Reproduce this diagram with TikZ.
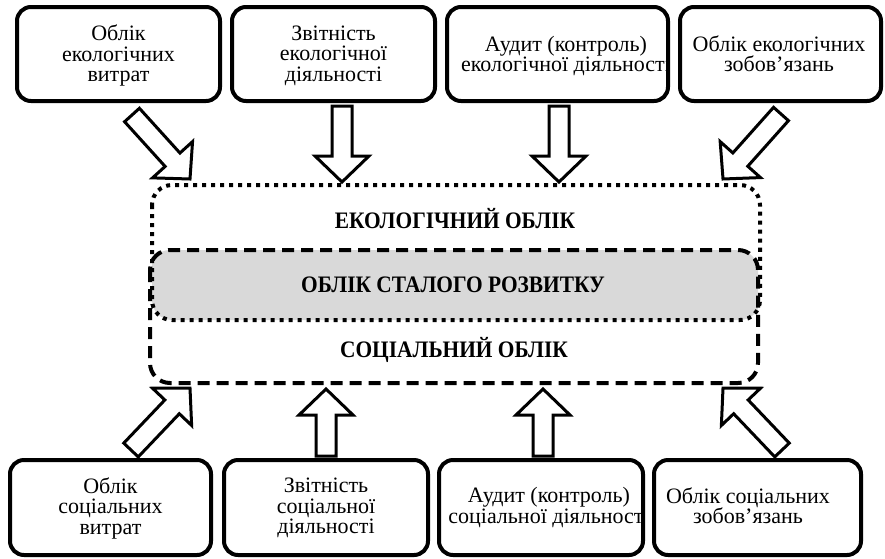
\documentclass[tikz,border=0pt]{standalone}
\usepackage{graphicx}
\usepackage{fontspec}
\setmainfont{Liberation Serif}
\usetikzlibrary{calc}
\definecolor{fillgray}{HTML}{D9D9D9}
\newcommand\tightlines{\lineskiplimit=-30pt\relax\lineskip=0pt\relax}
\newcommand\fatarrow[2]{%
  \path[fatarrow] let \p1=(#1), \p2=(#2),
    \n1={atan2(\y2-\y1,\x2-\x1)}, \n2={veclen(\x2-\x1,\y2-\y1)} in
    {[shift={(\p1)}, rotate=\n1]
      (0pt,-10pt) -- (\n2-26pt,-10pt) -- (\n2-26pt,-27pt) -- (\n2+0pt,0pt)
      -- (\n2-26pt,27pt) -- (\n2-26pt,10pt) -- (0pt,10pt) -- cycle};}
\newcommand\bigcaps[1]{\scalebox{0.95}[1.05]{#1}}
\begin{document}
\begin{tikzpicture}[x=1pt,y=-1pt,
  box/.style={draw, line width=4pt, rounded corners=14pt, fill=white, inner sep=0pt},
  boxtext/.style={align=center, inner sep=0pt,
    font=\fontsize{22}{20.5}\selectfont\tightlines},
  bigtext/.style={inner sep=0pt, anchor=base, font=\bfseries\fontsize{22.5}{24}\selectfont},
  ecoline/.style={line width=4pt, dash pattern=on 4pt off 5pt, rounded corners=20pt},
  socline/.style={line width=4pt, dash pattern=on 12pt off 7pt, rounded corners=20pt},
  fatarrow/.style={draw, line width=3pt, fill=white, line join=miter}
]
\useasboundingbox (0,0) rectangle (885,558);

% central area
\begin{scope}
  \clip[rounded corners=20pt] (152,185) rectangle (760,320);
  \fill[fillgray, rounded corners=20pt] (150,250) rectangle (758,383);
\end{scope}
\draw[ecoline] (152,185) rectangle (760,320);
\draw[socline] (150,250) rectangle (758,383);
\node[bigtext] (eco) at (455,228) {\bigcaps{ЕКОЛОГІЧНИЙ ОБЛІК}};
\node[bigtext] (sus) at (453,292) {\bigcaps{ОБЛІК СТАЛОГО РОЗВИТКУ}};
\node[bigtext] (soc) at (454,357.5) {\bigcaps{СОЦІАЛЬНИЙ ОБЛІК}};

% top boxes
\node[box, minimum width=203pt, minimum height=94pt] (tb1) at (118.5,54) {};
\node[box, minimum width=203pt, minimum height=94pt] (tb2) at (333.5,54) {};
\node[box, minimum width=221pt, minimum height=94pt] (tb3) at (557.5,54) {};
\node[box, minimum width=201pt, minimum height=94pt] (tb4) at (780.5,54) {};
\node[boxtext] (tb1t) at (118.5,55.5) {Облік\\екологічних\\витрат};
\node[boxtext] (tb2t) at (333.5,55.5) {Звітність\\екологічної\\діяльності};
\begin{scope}
  \clip ([xshift=2pt,yshift=2pt]tb3.south west) rectangle ([xshift=-2pt,yshift=-2pt]tb3.north east);
  \node[boxtext] (tb3t) at (566,56) {Аудит (контроль)\\екологічної діяльності};
\end{scope}
\node[boxtext] (tb4t) at (779,53.6) {Облік екологічних\\зобов’язань};

% bottom boxes
\node[box, minimum width=201pt, minimum height=95pt] (bb1) at (110.5,507.5) {};
\node[box, minimum width=204pt, minimum height=95pt] (bb2) at (326,507.5) {};
\node[box, minimum width=204pt, minimum height=95pt] (bb3) at (541,507.5) {};
\node[box, minimum width=207pt, minimum height=95pt] (bb4) at (757.5,507.5) {};
\node[boxtext] (bb1t) at (110.5,508) {Облік\\соціальних\\витрат};
\node[boxtext] (bb2t) at (326,508) {Звітність\\соціальної\\діяльності};
\begin{scope}
  \clip ([xshift=2pt,yshift=2pt]bb3.south west) rectangle ([xshift=-2pt,yshift=-2pt]bb3.north east);
  \node[boxtext] (bb3t) at (549,507.5) {Аудит (контроль)\\соціальної діяльності};
\end{scope}
\node[boxtext] (bb4t) at (748,505.5) {Облік соціальних\\зобов’язань};

% arrow end points
\coordinate (a1s) at (132,115); \coordinate (a1e) at (190,179);
\coordinate (a2s) at (342,106); \coordinate (a2e) at (342,182);
\coordinate (a3s) at (559,106); \coordinate (a3e) at (559,182);
\coordinate (a4s) at (781,114); \coordinate (a4e) at (723,179);
\coordinate (b1s) at (131,450); \coordinate (b1e) at (190,388);
\coordinate (b2s) at (326,456); \coordinate (b2e) at (326,389);
\coordinate (b3s) at (543,456); \coordinate (b3e) at (543,389);
\coordinate (b4s) at (782,450); \coordinate (b4e) at (723,388);
\fatarrow{a1s}{a1e}
\fatarrow{a2s}{a2e}
\fatarrow{a3s}{a3e}
\fatarrow{a4s}{a4e}
\fatarrow{b1s}{b1e}
\fatarrow{b2s}{b2e}
\fatarrow{b3s}{b3e}
\fatarrow{b4s}{b4e}
\end{tikzpicture}
\end{document}
